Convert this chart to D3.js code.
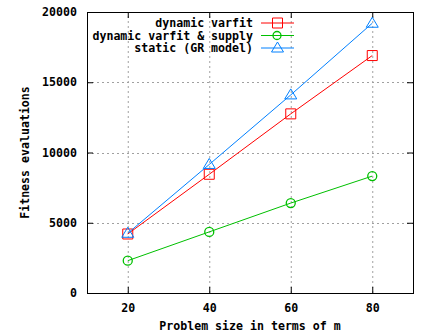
<!DOCTYPE html>
<html>
<head>
<meta charset="utf-8">
<script src="https://cdn.jsdelivr.net/npm/d3@7"></script>
<style>
  body { margin: 0; background: #fff; }
  text { font-family: "DejaVu Sans Mono", monospace; font-weight: bold; font-size: 11.6px; fill: #000; }
</style>
</head>
<body>
<svg class="chart"></svg>
<script>
const problemSizes = [20, 40, 60, 80];
const varfit = [4200, 8450, 12750, 16900];
const varfitSupply = [2300, 4350, 6400, 8320];
const staticGR = [4250, 9150, 14100, 19200];
const xTicks = [20, 40, 60, 80];
const yTicks = [0, 5000, 10000, 15000, 20000];

const seriesNames = ["dynamic varfit", "dynamic varfit & supply", "static (GR model)"];
const colors = ["#ff0000", "#00c000", "#0080ff"];
const symbols = ["square", "circle", "triangle"];

const width = 447, height = 335;
const margin = {top: 12, right: 34, bottom: 42, left: 87};

const svg = d3.select(".chart")
    .attr("width", width)
    .attr("height", height);

const x = d3.scaleLinear().domain([10, 90]).range([margin.left, width - margin.right]);
const y = d3.scaleLinear().domain([0, 20000]).range([height - margin.bottom, margin.top]);

const styleText = sel => sel.selectAll("text")
    .style("font-size", "11.6px")
    .style("font-family", "DejaVu Sans Mono")
    .style("font-weight", "bold")
    .attr("fill", "#000");

// grid
svg.append("g")
    .selectAll("line")
    .data(xTicks)
    .enter()
    .append("line")
    .attr("x1", d => x(d) + 0.5).attr("x2", d => x(d) + 0.5)
    .attr("y1", y(0)).attr("y2", y(20000))
    .attr("stroke", "#a0a0a0")
    .attr("stroke-dasharray", "2,3");

svg.append("g")
    .selectAll("line")
    .data(yTicks.slice(1, -1))
    .enter()
    .append("line")
    .attr("x1", x(10)).attr("x2", x(90))
    .attr("y1", d => Math.round(y(d)) + 0.5).attr("y2", d => Math.round(y(d)) + 0.5)
    .attr("stroke", "#a0a0a0")
    .attr("stroke-dasharray", "2,3");

// axes
svg.append("g")
    .attr("transform", `translate(0,${y(0)})`)
    .call(d3.axisBottom(x).tickValues(xTicks).tickSize(-6).tickPadding(11).tickFormat(d3.format("d")))
    .call(g => g.select(".domain").remove())
    .call(styleText);

svg.append("g")
    .attr("transform", `translate(0,${y(20000)})`)
    .call(d3.axisTop(x).tickValues(xTicks).tickSize(-6).tickFormat(""))
    .call(g => g.select(".domain").remove());

svg.append("g")
    .attr("transform", `translate(${x(10)},0)`)
    .call(d3.axisLeft(y).tickValues(yTicks).tickSize(-6).tickPadding(10).tickFormat(d3.format("d")))
    .call(g => g.select(".domain").remove())
    .call(styleText);

svg.append("g")
    .attr("transform", `translate(${x(90)},0)`)
    .call(d3.axisRight(y).tickValues(yTicks).tickSize(-6).tickFormat(""))
    .call(g => g.select(".domain").remove());

svg.append("rect")
    .attr("x", x(10) + 0.5).attr("y", y(20000) + 0.5)
    .attr("width", x(90) - x(10)).attr("height", y(0) - y(20000))
    .attr("fill", "none").attr("stroke", "#000");

// labels
svg.append("text")
    .attr("x", (x(10) + x(90)) / 2)
    .attr("y", 330)
    .attr("text-anchor", "middle")
    .text("Problem size in terms of m");

svg.append("text")
    .attr("transform", `translate(29,${(y(0) + y(20000)) / 2}) rotate(-90)`)
    .attr("text-anchor", "middle")
    .text("Fitness evaluations");

// series
const allSeries = [varfit, varfitSupply, staticGR];

const symbolPath = (type, cx, cy) =>
{
    if (type === "square")
        return `M${cx - 5},${cy - 5}h10v10h-10z`;
    return `M${cx},${cy - 6}L${cx + 6},${cy + 4}L${cx - 6},${cy + 4}z`;
};

const line = d3.line()
    .x((d, i) => x(problemSizes[i]))
    .y(d => y(d));

allSeries.forEach((vals, k) =>
{
    svg.append("path")
        .attr("d", line(vals))
        .attr("fill", "none")
        .attr("stroke", colors[k])
        .attr("stroke-width", 1);

    vals.forEach((v, i) =>
    {
        const cx = x(problemSizes[i]), cy = y(v);
        if (symbols[k] === "circle")
            svg.append("circle").attr("cx", cx).attr("cy", cy).attr("r", 4.5)
                .attr("fill", "none").attr("stroke", colors[k]).attr("stroke-width", 1.3);
        else
            svg.append("path").attr("d", symbolPath(symbols[k], cx, cy))
                .attr("fill", "none").attr("stroke", colors[k]).attr("stroke-width", 1);
    });
});

// legend
const legend = svg.append("g");
seriesNames.forEach((name, k) =>
{
    const ly = 23 + k * 12.5;
    legend.append("text")
        .attr("x", 253).attr("y", ly + 4)
        .attr("text-anchor", "end")
        .text(name);
    legend.append("line")
        .attr("x1", 261).attr("x2", 294)
        .attr("y1", ly).attr("y2", ly)
        .attr("stroke", colors[k]);
    if (symbols[k] === "circle")
        legend.append("circle").attr("cx", 277).attr("cy", ly).attr("r", 4)
            .attr("fill", "none").attr("stroke", colors[k]).attr("stroke-width", 1.3);
    else
        legend.append("path").attr("d", symbolPath(symbols[k], 277.5, ly))
            .attr("fill", "none").attr("stroke", colors[k]);
});
</script>
</body>
</html>
